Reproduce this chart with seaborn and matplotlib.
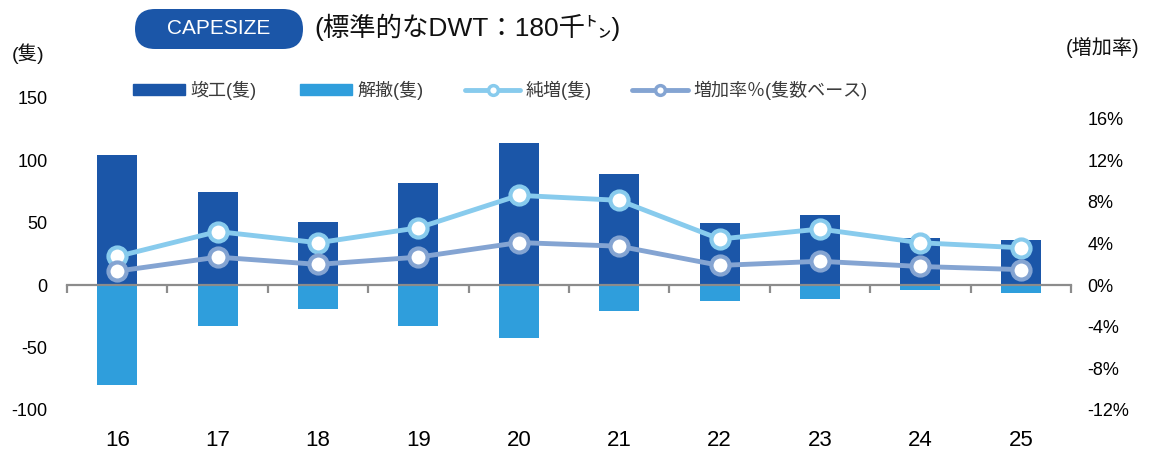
import matplotlib
matplotlib.use("Agg")
import matplotlib.pyplot as plt
import matplotlib.patches as mpatches
from matplotlib.lines import Line2D
from matplotlib.ticker import FixedLocator, FuncFormatter
import seaborn as sns

# ---- data ----
years = ["16", "17", "18", "19", "20", "21", "22", "23", "24", "25"]
completions = [104, 75, 51, 82, 114, 89, 50, 56, 38, 36]
demolitions = [-80, -33, -19, -33, -42, -21, -13, -11, -4, -6]
net_increase = [23, 43, 34, 46, 72, 68, 37, 45, 34, 30]
growth_pct = [1.35, 2.7, 2.0, 2.7, 4.1, 3.75, 1.9, 2.3, 1.8, 1.5]
left_ticks = [-100, -50, 0, 50, 100, 150]
right_ticks = [-12, -8, -4, 0, 4, 8, 12, 16]

legend_labels = ["竣工(隻)", "解撤(隻)", "純増(隻)", "増加率％(隻数ベース)"]

C_COMP = "#1b56a8"
C_DEMO = "#2f9edc"
C_NET = "#88cbed"
C_GROW = "#84a4d2"
C_AXIS = "#8c8c8c"

sns.set_theme(style="white")
plt.rcParams["font.family"] = ["Liberation Sans", "Noto Sans CJK JP"]
plt.rcParams["axes.unicode_minus"] = False

W, H = 1149, 449
fig = plt.figure(figsize=(W / 100, H / 100), dpi=100)
ax = fig.add_axes([67 / W, 1 - 410 / H, (1071 - 67) / W, 312 / H])

sns.barplot(x=years, y=completions, color=C_COMP, width=0.4, saturation=1,
            linewidth=0, ax=ax)
sns.barplot(x=years, y=demolitions, color=C_DEMO, width=0.4, saturation=1,
            linewidth=0, ax=ax)
sns.pointplot(x=years, y=net_increase, color=C_NET, errorbar=None, ax=ax)
net_line = ax.lines[-1]
net_line.set_linewidth(3.5)
net_line.set_marker("o")
net_line.set_markersize(13)
net_line.set_markerfacecolor("white")
net_line.set_markeredgecolor(C_NET)
net_line.set_markeredgewidth(3)
net_line.set_zorder(4)

ax.set_ylim(left_ticks[0], left_ticks[-1])
ax.set_xlim(-0.5, len(years) - 0.5)
ax.set_yticks(left_ticks)
ax.set_xlabel("")
ax.set_ylabel("")
for s in ["top", "right", "left"]:
    ax.spines[s].set_visible(False)
ax.spines["bottom"].set_position(("data", 0))
ax.spines["bottom"].set_color(C_AXIS)
ax.spines["bottom"].set_linewidth(1.6)
ax.spines["bottom"].set_zorder(3)
ax.xaxis.set_minor_locator(FixedLocator([i - 0.5 for i in range(len(years) + 1)]))
ax.tick_params(axis="x", which="minor", bottom=True, direction="out",
               length=6, width=1.6, color=C_AXIS)
ax.tick_params(axis="x", which="major", length=0, pad=104, labelsize=16,
               labelcolor="black")
ax.tick_params(axis="y", which="both", length=0, pad=14, labelsize=13,
               labelcolor="black")
ax.grid(False)

ax2 = ax.twinx()
sns.pointplot(x=years, y=growth_pct, color=C_GROW, errorbar=None, ax=ax2)
g_line = ax2.lines[-1]
g_line.set_linewidth(3.5)
g_line.set_marker("o")
g_line.set_markersize(13)
g_line.set_markerfacecolor("white")
g_line.set_markeredgecolor(C_GROW)
g_line.set_markeredgewidth(3)
ax2.set_ylim(-12, 18)
ax2.set_yticks(right_ticks)
ax2.yaxis.set_major_formatter(FuncFormatter(lambda v, p: f"{int(v)}%"))
ax2.set_ylabel("")
ax2.set_xlabel("")
for s in ax2.spines.values():
    s.set_visible(False)
ax2.tick_params(axis="y", length=0, pad=12, labelsize=13, labelcolor="black")
ax2.grid(False)
ax2.set_xlim(-0.5, len(years) - 0.5)

# ---- title block ----
box = mpatches.FancyBboxPatch((135 / 100, (H - 49) / 100), 168 / 100, 40 / 100,
                              boxstyle="round,pad=0,rounding_size=0.2",
                              transform=fig.dpi_scale_trans,
                              facecolor=C_COMP, edgecolor="none")
fig.patches.append(box)
fig.text(219 / W, 1 - 29 / H, "CAPESIZE", color="white", fontsize=15,
         ha="center", va="center")
fig.text(314 / W, 1 - 27 / H, "(標準的なDWT：180千㌧)", color="#111111",
         fontsize=19, ha="left", va="center")
fig.text(28 / W, 1 - 54 / H, "(隻)", fontsize=14, ha="center", va="center",
         color="#111111")
fig.text(1103 / W, 1 - 48 / H, "(増加率)", fontsize=14.5, ha="center",
         va="center", color="#111111")

# ---- legend ----
handles = [
    mpatches.Patch(color=C_COMP),
    mpatches.Patch(color=C_DEMO),
    Line2D([], [], color=C_NET, lw=3.5, marker="o", markersize=7,
           markerfacecolor="white", markeredgecolor=C_NET, markeredgewidth=2.5),
    Line2D([], [], color=C_GROW, lw=3.5, marker="o", markersize=7,
           markerfacecolor="white", markeredgecolor=C_GROW, markeredgewidth=2.5),
]
leg_x = [133, 300, 465, 632]
leg_len = [2.9, 2.9, 3.05, 3.1]
for h, lab, x, hl in zip(handles, legend_labels, leg_x, leg_len):
    fig.legend(handles=[h], labels=[lab], loc="center left",
               bbox_to_anchor=(x / W, 1 - 90 / H), frameon=False,
               borderpad=0, borderaxespad=0, handletextpad=0.28,
               handlelength=hl, handleheight=0.6, fontsize=13,
               labelcolor="#3a3a3a")

fig.savefig("out.png", dpi=100)
